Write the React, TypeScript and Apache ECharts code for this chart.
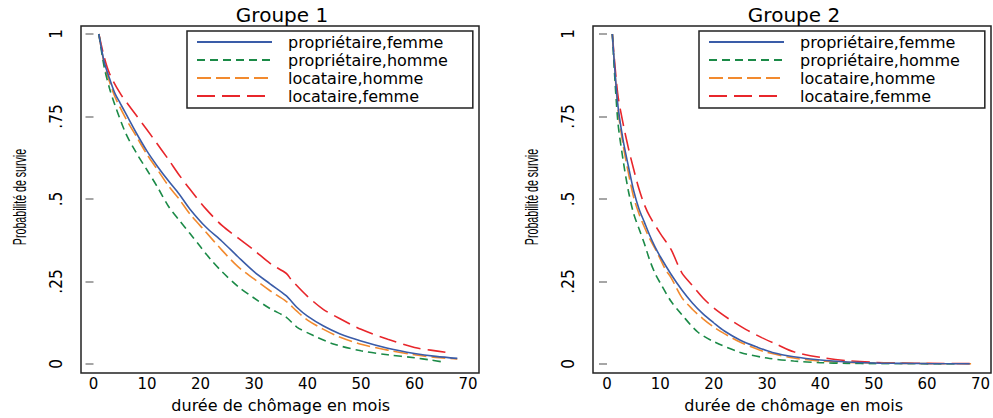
import React, { useEffect, useRef } from "react";
import * as echarts from "echarts";

const seriesNames = ["propriétaire,femme", "propriétaire,homme", "locataire,homme", "locataire,femme"];
const panelTitles = ["Groupe 1", "Groupe 2"];
const xAxisTitle = "durée de chômage en mois";
const yAxisTitle = "Probabilité de survie";
const yTickLabels: Record<string, string> = { "0": "0", "0.25": ".25", "0.5": ".5", "0.75": ".75", "1": "1" };

// Groupe 1
const g1PropFemmeMonths = [1, 2, 3, 4, 5, 6, 8, 10, 12, 14, 16, 18, 21, 24, 27, 30, 33, 36, 38, 40, 43, 46, 50, 55, 60, 64, 68];
const g1PropFemmeSurv = [1.0, 0.915, 0.865, 0.82, 0.79, 0.76, 0.70, 0.645, 0.598, 0.555, 0.515, 0.47, 0.415, 0.372, 0.325, 0.28, 0.243, 0.207, 0.172, 0.145, 0.115, 0.092, 0.07, 0.048, 0.032, 0.023, 0.017];
const g1PropHommeMonths = [1, 2, 3, 4, 6, 8, 10, 12, 14, 16, 18, 20, 22, 24, 27, 30, 33, 36, 38, 41, 45, 50, 55, 60, 63, 65];
const g1PropHommeSurv = [1.0, 0.90, 0.835, 0.785, 0.70, 0.64, 0.588, 0.535, 0.478, 0.436, 0.396, 0.355, 0.315, 0.28, 0.235, 0.2, 0.168, 0.142, 0.112, 0.087, 0.06, 0.04, 0.028, 0.019, 0.012, 0.007];
const g1LocHommeMonths = [1, 2, 3, 4, 6, 8, 10, 12, 14, 16, 18, 21, 24, 27, 30, 33, 36, 38, 40, 43, 46, 50, 55, 60, 64, 68];
const g1LocHommeSurv = [1.0, 0.91, 0.855, 0.81, 0.745, 0.69, 0.635, 0.588, 0.54, 0.5, 0.455, 0.4, 0.345, 0.295, 0.258, 0.222, 0.19, 0.16, 0.133, 0.105, 0.082, 0.06, 0.042, 0.028, 0.02, 0.015];
const g1LocFemmeMonths = [1, 2, 3, 5, 7, 10, 12, 14, 16, 18, 21, 24, 27, 30, 33, 36, 37, 40, 43, 46, 50, 55, 60, 63, 66];
const g1LocFemmeSurv = [1.0, 0.93, 0.88, 0.82, 0.775, 0.71, 0.665, 0.62, 0.573, 0.53, 0.47, 0.42, 0.382, 0.345, 0.305, 0.275, 0.255, 0.205, 0.165, 0.138, 0.105, 0.075, 0.05, 0.042, 0.035];

// Groupe 2
const g2PropFemmeMonths = [1, 2, 3, 4, 5, 6, 7, 8, 9, 10, 12, 14, 16, 18, 20, 22, 25, 28, 31, 35, 40, 45, 50, 55, 60, 68];
const g2PropFemmeSurv = [1.0, 0.79, 0.68, 0.6, 0.525, 0.47, 0.43, 0.39, 0.355, 0.325, 0.272, 0.225, 0.185, 0.152, 0.125, 0.1, 0.072, 0.052, 0.035, 0.022, 0.012, 0.006, 0.003, 0.002, 0.001, 0.0005];
const g2PropHommeMonths = [1, 2, 3, 4, 5, 6, 7, 8, 9, 10, 12, 14, 17, 20, 25, 30, 35, 40, 45, 50, 60, 66];
const g2PropHommeSurv = [1.0, 0.74, 0.62, 0.525, 0.455, 0.41, 0.365, 0.315, 0.275, 0.245, 0.19, 0.15, 0.097, 0.068, 0.035, 0.018, 0.009, 0.004, 0.002, 0.001, 0.0005, 0.0003];
const g2LocHommeMonths = [1, 2, 3, 4, 5, 6, 7, 8, 9, 10, 11, 12, 14, 16, 18, 20, 22, 25, 28, 30, 35, 40, 45, 50, 60, 69];
const g2LocHommeSurv = [1.0, 0.78, 0.665, 0.58, 0.505, 0.455, 0.415, 0.38, 0.35, 0.318, 0.285, 0.262, 0.202, 0.166, 0.137, 0.112, 0.092, 0.066, 0.046, 0.035, 0.018, 0.009, 0.005, 0.003, 0.001, 0.0005];
const g2LocFemmeMonths = [1, 2, 3, 4, 5, 6, 7, 8, 10, 12, 14, 16, 18, 20, 23, 26, 29, 32, 35, 40, 45, 50, 55, 60, 68];
const g2LocFemmeSurv = [1.0, 0.82, 0.73, 0.655, 0.59, 0.53, 0.483, 0.448, 0.395, 0.347, 0.277, 0.238, 0.2, 0.17, 0.135, 0.105, 0.08, 0.058, 0.037, 0.02, 0.01, 0.005, 0.003, 0.002, 0.001];

const colors = ["#3a5ca8", "#1b8a47", "#f28a2e", "#e8262b"];
const dashes: any[] = ["solid", [8, 5], [14, 5], [18, 7]];

const pairs = (m: number[], s: number[]) => m.map((t, i) => [t, s[i]]);

const panels = [
  [pairs(g1PropFemmeMonths, g1PropFemmeSurv), pairs(g1PropHommeMonths, g1PropHommeSurv), pairs(g1LocHommeMonths, g1LocHommeSurv), pairs(g1LocFemmeMonths, g1LocFemmeSurv)],
  [pairs(g2PropFemmeMonths, g2PropFemmeSurv), pairs(g2PropHommeMonths, g2PropHommeSurv), pairs(g2LocHommeMonths, g2LocHommeSurv), pairs(g2LocFemmeMonths, g2LocFemmeSurv)],
];

const WIDE = "'DejaVu Sans', Verdana, sans-serif";
const NARROW = "'Liberation Sans Narrow', 'Arial Narrow', 'DejaVu Sans Condensed', sans-serif";

export default function App() {
  const ref = useRef<HTMLDivElement>(null);
  useEffect(() => {
    if (!ref.current) return;
    const chart = echarts.init(ref.current, undefined, { renderer: "svg" });
    const grids = [
      { left: 93.5, top: 34, width: 374.5, height: 331 },
      { left: 607, top: 34, width: 376, height: 331 },
    ];
    const frames = [
      { x: 81, y: 26, w: 398, h: 347 },
      { x: 593, y: 26, w: 398, h: 347 },
    ];
    const legendLeft = [187, 699];
    const series: any[] = [];
    panels.forEach((p, pi) => {
      p.forEach((data, si) => {
        series.push({
          type: "line",
          name: seriesNames[si],
          xAxisIndex: pi,
          yAxisIndex: pi,
          data,
          symbol: "none",
          smooth: 0.3,
          lineStyle: { color: colors[si], width: 1.6, type: dashes[si] },
          itemStyle: { color: colors[si] },
          z: 3 + (3 - si),
        });
      });
    });
    const graphics: any[] = [];
    frames.forEach((f) => {
      graphics.push({
        type: "rect",
        shape: { x: f.x, y: f.y, width: f.w, height: f.h },
        style: { fill: "none", stroke: "#222", lineWidth: 1.5 },
        z: 1,
      });
      graphics.push({
        type: "text",
        x: f.x - 62,
        y: 197,
        rotation: Math.PI / 2,
        scaleX: 0.56,
        style: {
          text: yAxisTitle,
          fontFamily: "'Liberation Sans', Arial, sans-serif",
          fontSize: 19,
          fill: "#000",
          textAlign: "center",
          textVerticalAlign: "middle",
        },
        z: 5,
      });
    });
    const option: any = {
      animation: false,
      backgroundColor: "#ffffff",
      title: panelTitles.map((t, i) => ({
        text: t,
        left: frames[i].x + frames[i].w / 2 - 3,
        top: 0,
        textAlign: "center",
        textStyle: { fontFamily: WIDE, fontSize: 20, fontWeight: "normal", color: "#000" },
      })),
      legend: legendLeft.map((l) => ({
        data: seriesNames,
        orient: "vertical",
        left: l,
        top: 31,
        itemWidth: 75,
        itemHeight: 14,
        itemGap: 2,
        padding: [3, 25, 4, 9],
        borderColor: "#222",
        borderWidth: 1.5,
        selectedMode: false,
        itemStyle: { color: "rgba(0,0,0,0)", borderWidth: 0, opacity: 0 },
        textStyle: { fontFamily: WIDE, fontSize: 16, lineHeight: 14, color: "#000", padding: [0, 0, 0, 11] },
      })),
      grid: grids,
      xAxis: grids.map((_, i) => ({
        type: "value",
        gridIndex: i,
        min: 0,
        max: 70,
        interval: 10,
        offset: 8,
        name: xAxisTitle,
        nameLocation: "middle",
        nameGap: 25,
        nameTextStyle: { fontFamily: WIDE, fontSize: 16, color: "#000" },
        axisLine: { show: false },
        axisTick: { show: false },
        splitLine: { show: false },
        axisLabel: { fontFamily: WIDE, fontSize: 15, color: "#000", margin: 4 },
      })),
      yAxis: grids.map((g, i) => ({
        type: "value",
        gridIndex: i,
        min: 0,
        max: 1,
        interval: 0.25,
        offset: g.left - frames[i].x,
        axisLine: { show: false },
        axisTick: { show: true, length: 8, lineStyle: { color: "#888", width: 1.5 } },
        splitLine: { show: false },
        axisLabel: {
          fontFamily: NARROW,
          fontSize: 17,
          color: "#000",
          rotate: 90,
          margin: 17,
          formatter: (v: number) => yTickLabels[String(v)] ?? String(v),
        },
      })),
      graphic: graphics,
      series,
    };
    chart.setOption(option);
    return () => chart.dispose();
  }, []);
  return <div ref={ref} style={{ position: "fixed", left: 0, top: 0, width: 993, height: 418 }} />;
}
